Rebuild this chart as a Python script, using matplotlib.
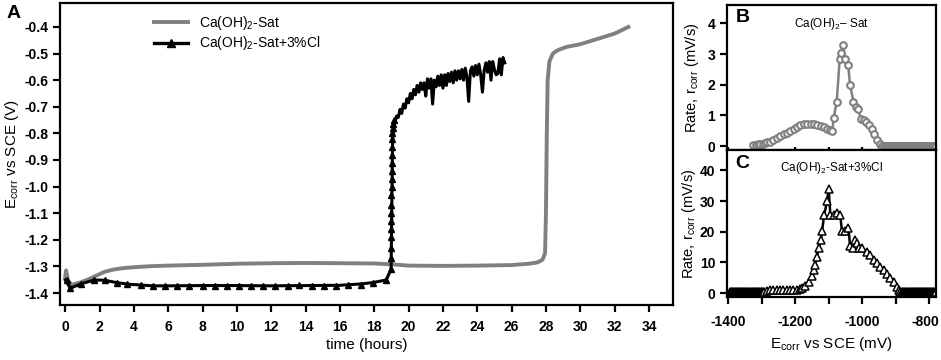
import matplotlib
matplotlib.use('Agg')
import numpy as np
from matplotlib import pyplot as plt
from matplotlib.lines import Line2D
from matplotlib.transforms import ScaledTranslation

plt.rcParams['font.family'] = ['Liberation Sans', 'DejaVu Sans']
plt.rcParams['mathtext.fontset'] = 'custom'
plt.rcParams['mathtext.rm'] = 'Liberation Sans'

GRAY = '#808080'

# panel A, Ca(OH)2-Sat (gray)
sat_t = [0, 0.05, 0.1, 0.15, 0.25, 0.4, 0.6, 0.9, 1.3, 1.8, 2.3, 2.8, 3.3, 4, 5,
         6, 8, 10, 12, 14, 16, 18, 19, 20, 22, 24, 26, 27, 27.5, 27.8, 27.95,
         28.0, 28.05, 28.1, 28.2, 28.4, 28.7, 29.2, 30, 31, 32, 32.8]
sat_v = [-1.34, -1.315, -1.33, -1.35, -1.36, -1.37, -1.365, -1.36, -1.35, -1.335,
         -1.32, -1.312, -1.307, -1.303, -1.299, -1.297, -1.294, -1.29, -1.288,
         -1.287, -1.288, -1.289, -1.292, -1.297, -1.298, -1.297, -1.295, -1.29,
         -1.285, -1.275, -1.25, -1.1, -0.8, -0.6, -0.53, -0.5, -0.487, -0.475,
         -0.465, -0.445, -0.425, -0.40]

# panel A, Ca(OH)2-Sat+3%Cl (black) line
cl_t = [0, 0.3, 0.9, 1.7, 2.3, 3.0, 3.7, 4.4, 5.1, 6, 8, 10, 12, 14, 16, 17.2,
        17.9, 18.7, 18.98, 19.02, 19.05, 19.07, 19.1,
        19.2, 19.3, 19.4, 19.5, 19.6, 19.7, 19.8, 19.9, 20.0, 20.1, 20.2, 20.3,
        20.4, 20.5, 20.6, 20.7, 20.8, 20.9, 21.0, 21.1, 21.2, 21.3, 21.4, 21.5,
        21.6, 21.7, 21.8, 21.9, 22.0, 22.1, 22.2, 22.3, 22.4, 22.5, 22.6, 22.7,
        22.8, 22.9, 23.0, 23.1, 23.2, 23.3, 23.4, 23.5, 23.6, 23.7, 23.8, 23.9,
        24.0, 24.1, 24.2, 24.3, 24.4, 24.5, 24.6, 24.7, 24.8, 24.9, 25.0, 25.1,
        25.2, 25.3, 25.4, 25.5, 25.6]
cl_v = [-1.351, -1.382, -1.366, -1.351, -1.352, -1.361, -1.367, -1.37, -1.373,
        -1.373, -1.372, -1.372, -1.373, -1.372, -1.371, -1.366, -1.361, -1.351,
        -1.31, -1.1, -0.9, -0.83, -0.80,
        -0.76, -0.735, -0.74, -0.71, -0.725, -0.69, -0.705, -0.67, -0.685,
        -0.65, -0.67, -0.635, -0.655, -0.62, -0.645, -0.61, -0.635, -0.61,
        -0.66, -0.595, -0.63, -0.595, -0.69, -0.60, -0.625, -0.585, -0.62,
        -0.58, -0.63, -0.58, -0.62, -0.575, -0.605, -0.57, -0.61, -0.565,
        -0.60, -0.565, -0.595, -0.56, -0.60, -0.555, -0.59, -0.68, -0.565,
        -0.55, -0.585, -0.545, -0.58, -0.54, -0.58, -0.645, -0.565, -0.535,
        -0.57, -0.53, -0.60, -0.53, -0.56, -0.58, -0.575, -0.52, -0.58,
        -0.515, -0.535]

# black triangle markers along the Cl curve
clm_t = [0.1, 0.3, 0.9, 1.7, 2.3, 3.0, 3.6, 4.4, 5.1, 5.8, 6.5, 7.2, 8.0, 8.7,
         9.4, 10.1, 10.8, 11.5, 12.2, 13.0, 13.6, 14.4, 15.1, 15.8, 16.5, 17.2,
         17.9, 18.7, 19.0, 19.0, 19.0, 19.0, 19.0, 19.0, 19.0, 19.0, 19.0, 19.02,
         19.02, 19.02, 19.03, 19.03, 19.04, 19.05, 19.06, 19.08, 19.1, 19.15]
clm_v = [-1.35, -1.38, -1.366, -1.351, -1.352, -1.361, -1.367, -1.37, -1.373,
         -1.373, -1.372, -1.372, -1.372, -1.372, -1.372, -1.373, -1.375, -1.372,
         -1.372, -1.372, -1.371, -1.372, -1.373, -1.372, -1.371, -1.368, -1.361,
         -1.35, -1.31, -1.27, -1.23, -1.19, -1.16, -1.13, -1.10, -1.07, -1.03,
         -1.00, -0.97, -0.94, -0.91, -0.88, -0.85, -0.82, -0.80, -0.78, -0.765,
         -0.75]

# panel B, rate vs Ecorr, Ca(OH)2-Sat
b_e = [-1325, -1318, -1311, -1304, -1297, -1290, -1283, -1276, -1266, -1255,
       -1244, -1234, -1224, -1214, -1204, -1194, -1184, -1174, -1164, -1154,
       -1144, -1134, -1124, -1114, -1104, -1095, -1089, -1085, -1076, -1067,
       -1063, -1058, -1050, -1042, -1036, -1026, -1020, -1012, -1004, -996,
       -988, -980, -972, -964, -956, -948, -940] + list(range(-936, -779, 3))
b_r = [0.05, 0.05, 0.06, 0.07, 0.08, 0.10, 0.12, 0.15, 0.20, 0.26, 0.32, 0.38,
       0.44, 0.50, 0.57, 0.63, 0.68, 0.71, 0.73, 0.73, 0.72, 0.70, 0.66, 0.62,
       0.57, 0.52, 0.49, 0.93, 1.45, 2.85, 3.05, 3.30, 2.85, 2.65, 1.98, 1.45,
       1.28, 1.20, 0.90, 0.85, 0.80, 0.68, 0.55, 0.38, 0.20, 0.08, 0.02] + [0.0] * 53

# panel C, rate vs Ecorr, Ca(OH)2-Sat+3%Cl
c_e = list(range(-1394, -1290, 2)) + [
    -1285, -1275, -1265, -1255, -1245, -1235, -1225, -1215, -1205, -1195,
    -1185, -1178, -1170, -1160, -1150, -1145, -1140, -1135, -1130, -1123,
    -1120, -1113, -1105, -1100, -1095, -1085, -1075, -1066, -1060, -1050,
    -1041, -1036, -1026, -1021, -1016, -1011, -1001, -986, -976, -966, -956,
    -946, -936, -926, -916, -906, -896, -891, -886] + list(range(-882, -779, 2))
c_r = [0.3] * 52 + [
    0.8, 0.9, 0.9, 1.0, 1.0, 1.0, 1.0, 1.0, 1.0, 1.0,
    1.2, 1.5, 2.3, 3.7, 5.4, 7.5, 9.2, 11.9, 14.6, 17.4,
    20.1, 25.6, 29.9, 33.8, 25.6, 25.6, 26.0, 25.6, 20.1, 20.1,
    21.2, 15.2, 14.6, 17.4, 16.4, 14.6, 14.6, 13.5, 12.5, 10.8, 9.9,
    8.4, 7.5, 6.3, 4.8, 3.7, 2.1, 1.0, 0.2] + [0.2] * 52

fig = plt.figure(figsize=(9.41, 3.6), dpi=100)
axA = fig.add_axes([0.0638, 0.1528, 0.6514, 0.8389])
axB = fig.add_axes([0.7726, 0.583, 0.2221, 0.403])
axC = fig.add_axes([0.7726, 0.175, 0.2221, 0.408])

for ax in (axA, axB, axC):
    for s in ax.spines.values():
        s.set_linewidth(1.6)
    ax.tick_params(width=1.6, length=5, labelsize=10)

# ---- panel A
axA.plot(sat_t, sat_v, '-', color=GRAY, lw=2.8)
axA.plot(cl_t, cl_v, '-', color='k', lw=2.2)
axA.plot(clm_t, clm_v, '^', color='k', ms=5, ls='none')
axA.set_xlim(-0.3, 35.4)
axA.set_ylim(-1.445, -0.31)
axA.set_xticks(np.arange(0, 35, 2))
axA.set_yticks(np.round(np.arange(-1.4, -0.35, 0.1), 1))
axA.set_yticklabels([f'{v:.1f}' for v in np.arange(-1.4, -0.35, 0.1)],
                    fontweight='bold')
axA.set_xticklabels([str(v) for v in range(0, 35, 2)], fontweight='bold')
axA.tick_params(axis='x', pad=6)
axA.set_xlabel('time (hours)', fontsize=11, labelpad=3)
axA.set_ylabel(r'E$_{\rm corr}$ vs SCE (V)', fontsize=11, labelpad=2)
handles = [Line2D([], [], color=GRAY, lw=2.8),
           Line2D([], [], color='k', lw=2.4, marker='^', ms=6)]
axA.legend(handles, [r'Ca(OH)$_2$-Sat', r'Ca(OH)$_2$-Sat+3%Cl'],
           loc='upper left', bbox_to_anchor=(0.14, 0.99), frameon=False,
           fontsize=10, handlelength=2.4, borderaxespad=0.2, labelspacing=0.15)
fig.text(0.007, 0.95, 'A', fontsize=14, fontweight='bold')

# ---- panel B
axB.plot(b_e, b_r, '-o', color=GRAY, lw=1.8, ms=4.8, mew=1.5, mfc='white',
         mec=GRAY)
axB.set_xlim(-1403, -780)
axB.set_ylim(-0.13, 4.6)
axB.set_yticks([0, 1, 2, 3, 4])
axB.set_yticklabels(['0', '1', '2', '3', '4'], fontweight='bold')
axB.set_xticks(np.arange(-1400, -799, 100))
axB.tick_params(axis='x', direction='inout', labelbottom=False)
axB.set_ylabel(r'Rate, r$_{\rm corr}$ (mV/s)', fontsize=10.5, labelpad=5)
axB.text(0.04, 0.97, 'B', transform=axB.transAxes, fontsize=14,
         fontweight='bold', va='top')
axB.text(0.5, 0.87, r'Ca(OH)$_2$– Sat', transform=axB.transAxes,
         fontsize=8.5, ha='center', va='center')

# ---- panel C
axC.plot(c_e, c_r, '-^', color='k', lw=1.8, ms=5.5, mew=1.1, mfc='white',
         mec='k')
axC.set_xlim(-1403, -780)
axC.set_ylim(-1.3, 46.6)
axC.set_yticks([0, 10, 20, 30, 40])
axC.set_yticklabels(['0', '10', '20', '30', '40'], fontweight='bold')
axC.set_xticks(np.arange(-1400, -799, 100))
axC.set_xticklabels(['-1400', '', '-1200', '', '-1000', '', '-800'],
                    fontweight='bold')
axC.tick_params(axis='x', pad=8)
last = axC.get_xticklabels()[-1]
last.set_transform(last.get_transform()
                   + ScaledTranslation(-4 / 100, 0, fig.dpi_scale_trans))
axC.set_xlabel(r'E$_{\rm corr}$ vs SCE (mV)', fontsize=11, labelpad=4)
axC.set_ylabel(r'Rate, r$_{\rm corr}$ (mV/s)', fontsize=10.5, labelpad=1)
axC.text(0.04, 0.97, 'C', transform=axC.transAxes, fontsize=14,
         fontweight='bold', va='top')
axC.text(0.5, 0.88, r'Ca(OH)$_2$-Sat+3%Cl', transform=axC.transAxes,
         fontsize=8.5, ha='center', va='center')

plt.savefig('out.png', dpi=100)
plt.close(fig)
